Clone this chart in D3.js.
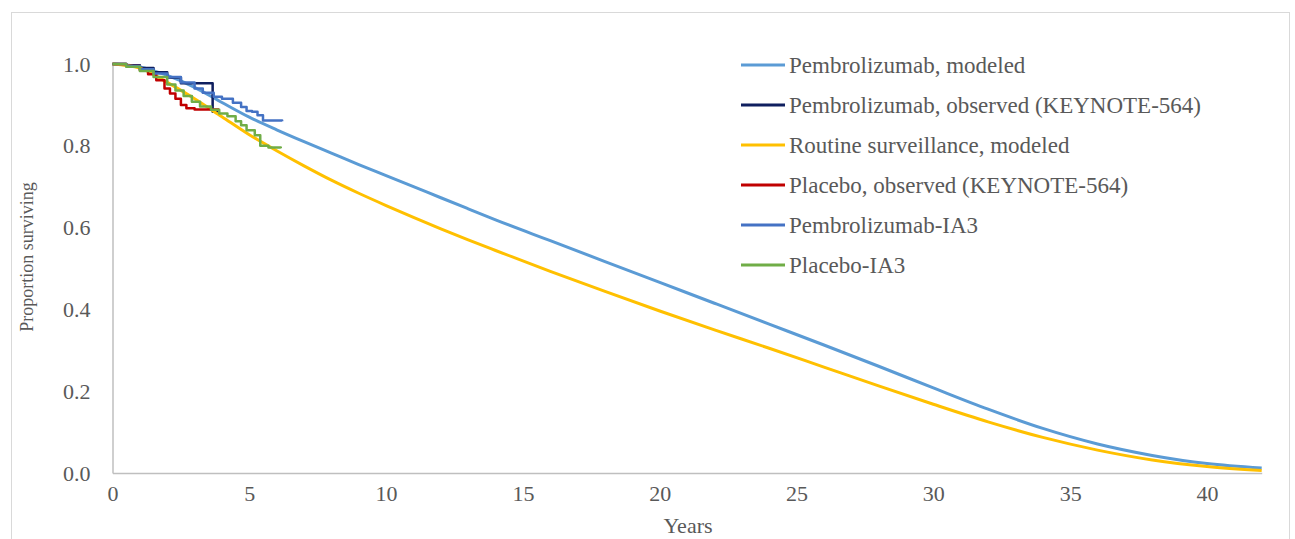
<!DOCTYPE html>
<html>
<head>
<meta charset="utf-8">
<script src="https://cdn.jsdelivr.net/npm/d3@7"></script>
<style>
  html, body { margin: 0; padding: 0; background: #fff; }
  svg { display: block; }
  text { font-family: "Liberation Serif", "Times New Roman", serif; fill: #595959; }
</style>
</head>
<body>
<svg id="chart" width="1295" height="539"></svg>
<script>
// Modeled survival (years, proportion)
const modelYears = [0, 1, 2, 3, 4, 5, 6, 7, 8, 9, 10, 11, 12, 13, 14, 16, 18, 20, 22, 24, 26, 28, 30, 32, 34, 36, 38, 40, 42];
const pembroModeled = [1.0, 0.993, 0.972, 0.943, 0.906, 0.87, 0.839, 0.81, 0.782, 0.754, 0.727, 0.7, 0.673, 0.646, 0.619, 0.568, 0.517, 0.466, 0.415, 0.364, 0.313, 0.261, 0.208, 0.156, 0.109, 0.071, 0.043, 0.023, 0.012];
const surveillanceModeled = [1.0, 0.99, 0.955, 0.915, 0.871, 0.827, 0.788, 0.751, 0.716, 0.684, 0.654, 0.625, 0.597, 0.57, 0.544, 0.493, 0.444, 0.396, 0.35, 0.305, 0.259, 0.213, 0.168, 0.125, 0.087, 0.056, 0.032, 0.016, 0.006];

// Observed Kaplan-Meier curves (KEYNOTE-564)
const pembroObsYears = [0, 0.5, 1, 1.5, 2, 2.5, 3.66, 3.93];
const pembroObs = [1.0, 0.997, 0.99, 0.98, 0.967, 0.953, 0.883, 0.883];
const placeboObsYears = [0, 0.5, 1, 1.3, 1.6, 1.9, 2.1, 2.3, 2.5, 2.7, 3.0, 3.9];
const placeboObs = [1.0, 0.995, 0.985, 0.975, 0.96, 0.94, 0.928, 0.915, 0.9, 0.892, 0.889, 0.889];

// Interim analysis 3 curves
const pembroIA3Years = [0, 0.5, 1, 1.5, 2, 2.5, 3, 3.3, 3.7, 4.0, 4.4, 4.7, 4.9, 5.1, 5.3, 5.5, 6.2];
const pembroIA3 = [1.0, 0.995, 0.987, 0.977, 0.968, 0.955, 0.94, 0.93, 0.92, 0.915, 0.905, 0.895, 0.885, 0.883, 0.875, 0.862, 0.86];
const placeboIA3Years = [0, 0.5, 1, 1.5, 2, 2.3, 2.6, 2.9, 3.2, 3.6, 3.9, 4.2, 4.5, 4.7, 4.9, 5.2, 5.4, 5.7, 6.15];
const placeboIA3 = [1.0, 0.993, 0.983, 0.968, 0.95, 0.935, 0.922, 0.908, 0.896, 0.888, 0.879, 0.872, 0.86, 0.85, 0.838, 0.826, 0.8, 0.796, 0.794];

const xTicks = [0, 5, 10, 15, 20, 25, 30, 35, 40];
const yTicks = [0, 0.2, 0.4, 0.6, 0.8, 1.0];

const seriesNames = [
  "Pembrolizumab, modeled",
  "Pembrolizumab, observed (KEYNOTE-564)",
  "Routine surveillance, modeled",
  "Placebo, observed (KEYNOTE-564)",
  "Pembrolizumab-IA3",
  "Placebo-IA3"
];
const seriesColors = ["#5B9BD5", "#0F1F5F", "#FFC000", "#C00000", "#4472C4", "#70AD47"];

const series = [
  { name: seriesNames[0], xs: modelYears, ys: pembroModeled, step: false, width: 3 },
  { name: seriesNames[1], xs: pembroObsYears, ys: pembroObs, step: true, width: 2.5 },
  { name: seriesNames[2], xs: modelYears, ys: surveillanceModeled, step: false, width: 3 },
  { name: seriesNames[3], xs: placeboObsYears, ys: placeboObs, step: true, width: 2.5 },
  { name: seriesNames[4], xs: pembroIA3Years, ys: pembroIA3, step: true, width: 2.5 },
  { name: seriesNames[5], xs: placeboIA3Years, ys: placeboIA3, step: true, width: 2.5 }
];
series.forEach((s, i) => s.color = seriesColors[i]);

const svg = d3.select("#chart");

// Chart area frame
svg.append("rect")
  .attr("x", 11.5).attr("y", 12.5)
  .attr("width", 1278).attr("height", 540)
  .attr("fill", "#fff").attr("stroke", "#d9d9d9").attr("stroke-width", 1);

const x = d3.scaleLinear().domain([0, 42]).range([112.5, 1261.7]);
const y = d3.scaleLinear().domain([0, 1]).range([473, 64]);

// Axes
const xAxis = d3.axisBottom(x).tickValues(xTicks).tickSize(0).tickPadding(12).tickFormat(d3.format("d"));
const gx = svg.append("g").attr("transform", `translate(0,${y(0)})`).call(xAxis);
gx.select(".domain").attr("stroke", "#bfbfbf").attr("stroke-width", 1.5);
gx.selectAll("text").style("font-size", "22px").attr("fill", "#595959")
  .style("font-family", '"Liberation Serif", serif');

const yAxis = d3.axisLeft(y).tickValues(yTicks).tickSize(0).tickPadding(22).tickFormat(d3.format(".1f"));
const gy = svg.append("g").attr("transform", `translate(${x(0)},0)`).call(yAxis);
gy.select(".domain").attr("stroke", "#bfbfbf").attr("stroke-width", 1.5);
gy.selectAll("text").style("font-size", "22px").attr("fill", "#595959")
  .style("font-family", '"Liberation Serif", serif');

// Axis titles
svg.append("text")
  .attr("x", 688).attr("y", 533)
  .attr("text-anchor", "middle")
  .style("font-size", "22px")
  .text("Years");

svg.append("text")
  .attr("transform", "translate(33,257) rotate(-90)")
  .attr("text-anchor", "middle")
  .style("font-size", "18px")
  .text("Proportion surviving");

// Curves
const plot = svg.append("g");
series.forEach(s => {
  const pts = s.xs.map((t, i) => [t, s.ys[i]]);
  const line = d3.line()
    .x(d => x(d[0]))
    .y(d => y(d[1]))
    .curve(s.step ? d3.curveStepAfter : d3.curveMonotoneX);
  plot.append("path")
    .datum(pts)
    .attr("fill", "none")
    .attr("stroke", s.color)
    .attr("stroke-width", s.width)
    .attr("stroke-linejoin", "round")
    .attr("d", line);
});

// Legend
const legend = svg.append("g").attr("transform", "translate(741,65)");
series.forEach((s, i) => {
  const g = legend.append("g").attr("transform", `translate(0,${i * 40})`);
  g.append("line")
    .attr("x1", 0).attr("x2", 44).attr("y1", 0).attr("y2", 0)
    .attr("stroke", s.color).attr("stroke-width", 3);
  g.append("text")
    .attr("x", 48).attr("y", 0).attr("dy", "0.35em")
    .style("font-size", "23px")
    .text(s.name);
});
</script>
</body>
</html>
